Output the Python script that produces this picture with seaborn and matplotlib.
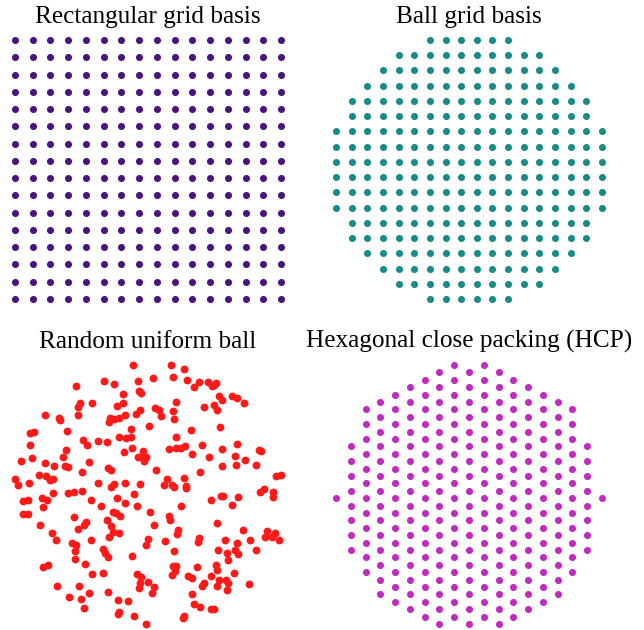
import numpy as np
import pandas as pd
import matplotlib
matplotlib.use("Agg")
import matplotlib.pyplot as plt
import seaborn as sns

sns.set_style("white")
plt.rcParams['font.family'] = ['Liberation Serif', 'DejaVu Serif']

# ---------------- data ----------------
titles = ["Rectangular grid basis", "Ball grid basis",
          "Random uniform ball", "Hexagonal close packing (HCP)"]

# rectangular 16x16 grid levels
rect_levels = [-1.0, -0.8667, -0.7333, -0.6, -0.4667, -0.3333, -0.2, -0.0667,
               0.0667, 0.2, 0.3333, 0.4667, 0.6, 0.7333, 0.8667, 1.0]

# ball grid: 18 levels, per row (top to bottom) first/last column index kept
ball_levels = [-1.0, -0.8824, -0.7647, -0.6471, -0.5294, -0.4118, -0.2941, -0.1765,
               -0.0588, 0.0588, 0.1765, 0.2941, 0.4118, 0.5294, 0.6471, 0.7647,
               0.8824, 1.0]
ball_row_first = [6, 4, 3, 2, 1, 1, 0, 0, 0, 0, 0, 0, 1, 1, 2, 3, 4, 6]
ball_row_last = [11, 13, 14, 15, 16, 16, 17, 17, 17, 17, 17, 17, 16, 16, 15, 14, 13, 11]

# random uniform ball
rand_x = [-72.3, -68.3, -69.7, -55.7, -103, -89, -87.7, -70.3, -118.3, -114.3, -81, -65.3, -49.7, -117.7, -61.3,
          -44.3, -14.7, -33.7, -10, 4.7, 23.3, 35.7, 25, 39, 46, 51, -25.3, -8.7, -7, 28, -24.7, -30.7, 7.3, 11, 13,
          -8.3, -12.3, -23.3, 25, 26, -38.3, -34, -29.3, -38.7, 1.3, -17, 43.3, -29.3, -21.7, -17, 28, -41.3, 36.5,
          59.7, 63.7, 65.7, 68.3, 70.7, 74, 83.7, 89, 96.3, 56, 66.3, 69, 72.3, 53.5, 89,
          -82, -127, -116.3, -85.3, -103.3, -94, -83, -80, -59, -65.7, -132.7, -130, -118.7, -109, -102.3, -98.3,
          -95.3, -50, -94.7, -80, -73.7, -66.3, -124.7, -120, -106, -101, -105.3, -57, -47, -124.7, -120.3, -73.7,
          -62.3, -64.3, -69.7, -107.7, -95.7, -92.3, -56.7,
          -15.7, -24, -4.7, -10.3, -5.7, -1.7, -3.7, 21, 28, 32.7, 44, -39.7, -36.7, 8.3, -34, -37, -23.3, -8, 19,
          15.7, 24.3, 25.7, 36, 37.7, 38.3, -13.7, -31, -23, -11.3, -34.7, -31.7, -28.3, 2, 21, 22.3, 33.3, -41.3, 6,
          -36.7, -35, -28.7, -39, 30, 28.7, 0, 16.5, 50.5,
          74, 111, 112.7, 61, 86.7, 97.3, 74.3, 88, 108, 52.3, 128, 132.7, 112, 116, 125, 124.7, 73, 74.7, 90.3,
          63.3, 84, 69, 94.7, 118.7, 127.3, 77, 102.3, 117.3, 124.3, 131.3,
          -76, -72.3, -72.7, -45.5, -73, -63, -105.3, -99.7, -56.3, -45, -91, -69, -59, -79.3, -67.3, -64.3,
          49.5, -2, -42.7, -39.7, -16.3, 25.7, 25.3, 28, 27, 24.3, 48.5, -10.7, -6.7, -8.3, -9.3, -0.3, 5.7, 4.3,
          40, 44, -40.3, 44.3, -29.7, -20.3, 45.7, -28.7, -30, -13.7, 34.7, 36.3, -2.3,
          89.3, 69.7, 79, 87.3, 90, 108.3, 79.7, 67.7, 68.7, 86, 62.7, 71.3, 78, 80.3, 69.3, 56, 53.7, 79, 101,
          51.7, 63.3, 66]
rand_y = [108.8, 91.2, 87.2, 91.8, 79.2, 76.5, 74.5, 79.2, 61.5, 62.2, 63.8, 54.8, 53.8, 50, 49.5,
          113.8, 129.5, 110.5, 113.8, 116.5, 129.2, 125.8, 117.8, 114.8, 107.8, 112.2, 100.5, 103.8, 101.5, 92.5,
          91.2, 88.2, 86.8, 84.2, 78.8, 84.8, 80.2, 79.2, 83.5, 75.8, 76.5, 75.8, 76.5, 72.2, 68.5, 65.8, 64.2,
          57.8, 56.2, 57.8, 57.2, 52.2, 49,
          112.8, 108.5, 109.8, 111.2, 98.8, 94.2, 98.8, 96.8, 91.8, 87.2, 89.8, 84.5, 67.5, 50, 51,
          44.5, 33.5, 36.8, 37.5, 31.8, 28.2, 28.2, 27.2, 32.2, 22.8, 15.5, 9.2, 11.8, 19.2, 18.2, 14.8, 15.5,
          11.5, 1.5, 1.2, 2.2, 3.5, -6.5, -5.2, -3.8, -5.5, -12.8, -5.8, -11.8, -19.8, -19.5, -22.8, -27.2, -30.5,
          -34.8, -30.5, -38.8, -45, -45,
          46.8, 42.2, 43.5, 37.5, 38.2, 37.2, 33.2, 45.5, 46.2, 46.8, 40.8, 26.8, 24.5, 24.8, 10.2, 7.5, 11.8, 10.8,
          15.2, 9.8, 9.2, 7.5, 16.8, 8.5, 6.5, 0.2, -3.8, -8.2, -11.2, -17.2, -18.8, -21.2, -17.2, -21.2, -25.5,
          -11.2, -25.2, -30.8, -31.8, -37.8, -38.2, -42.5, -35.2, -39.2, -44.5, -46, -43,
          45.8, 44.5, 43.2, 37.2, 38.2, 34.5, 28.5, 29.2, 29.2, 22.5, 18.8, 19.8, 2.5, 5.2, 2.8, -2.5, -1.2, -1.5,
          -2.5, -5.5, -10.5, -28.5, -35.5, -36.5, -38.2, -45, -45.5, -42.5, -42.8, -45.5,
          -48.5, -50.2, -56.5, -54.8, -64.2, -69.8, -72.8, -70.8, -79.5, -78.8, -91.8, -91.5, -98.2, -102.5, -104.2,
          -113.5,
          -47.8, -50.2, -58.2, -62.8, -61.8, -56.2, -71.8, -71.2, -76.2, -80.2, -72.2, -79.5, -82.2, -88.2, -93.2,
          -87.5, -92.8, -98.8, -81.2, -83.5, -97.2, -99.5, -105.2, -106.5, -109.8, -117.5, -119.8, -121.8, -123.2,
          -121.8, -129.2,
          -48.8, -55.8, -58.2, -55.5, -59.5, -55.8, -65.8, -70.2, -75.5, -78.5, -81.8, -85.8, -85.8, -88.8, -91.2,
          -88.8, -91.5, -95.5, -89.8, -112.2, -114.5, -114.8]

# hexagonal close packing: column x positions, row levels, per column level index range
hcp_col_x = [-1.0, -0.8889, -0.7778, -0.6667, -0.5556, -0.4444, -0.3333, -0.2222, -0.1111, 0.0,
             0.1111, 0.2222, 0.3333, 0.4444, 0.5556, 0.6667, 0.7778, 0.8889, 1.0]
hcp_levels = [1.0, 0.9429, 0.8857, 0.8286, 0.7714, 0.7143, 0.6571, 0.6, 0.5429, 0.4857, 0.4286,
              0.3714, 0.3143, 0.2571, 0.2, 0.1429, 0.0857, 0.0286, -0.0286, -0.0857, -0.1429, -0.2,
              -0.2571, -0.3143, -0.3714, -0.4286, -0.4857, -0.5429, -0.6, -0.6571, -0.7143, -0.7714,
              -0.8286, -0.8857, -0.9429, -1.0]
hcp_col_first = [18, 11, 6, 5, 4, 3, 2, 1, 0, 1, 0, 1, 2, 3, 4, 5, 6, 11, 18]
hcp_col_last = [18, 25, 28, 31, 32, 33, 34, 35, 34, 35, 34, 35, 34, 33, 32, 31, 28, 25, 18]

colors = ["#4a1580", "#1a8c88", "#ff1a1a", "#c02cc0"]

# ---------------- build tables ----------------
rect_df = pd.DataFrame([(x, y) for y in rect_levels for x in rect_levels], columns=["x", "y"])
ball_rows = []
for r, yv in enumerate(reversed(ball_levels)):
    for c in range(ball_row_first[r], ball_row_last[r] + 1):
        ball_rows.append((ball_levels[c], yv))
ball_df = pd.DataFrame(ball_rows, columns=["x", "y"])
rand_df = pd.DataFrame({"x": rand_x, "y": rand_y})
hcp_rows = []
for c, xv in enumerate(hcp_col_x):
    for k in range(hcp_col_first[c], hcp_col_last[c] + 1, 2):
        hcp_rows.append((xv, hcp_levels[k]))
hcp_df = pd.DataFrame(hcp_rows, columns=["x", "y"])

# ---------------- figure ----------------
W, H = 644, 630
fig = plt.figure(figsize=(W / 100, H / 100), dpi=100)

def box(x0, x1, y0, y1):
    return [x0 / W, (H - y1) / H, (x1 - x0) / W, (y1 - y0) / H]

boxes = [box(1.7, 294.3, 27.05, 311.95), box(322.7, 615.3, 27.05, 311.95),
         box(1.7, 294.3, 352.05, 636.95), box(322.7, 615.3, 352.05, 636.95)]
dfs = [rect_df, ball_df, rand_df, hcp_df]
lims = [(1.1, 1.1), (1.1, 1.1), (133 * 1.1, 129.5 * 1.1), (1.1, 1.1)]
sizes = [26, 26, 32, 26]

for i in range(4):
    ax = fig.add_axes(boxes[i])
    sns.scatterplot(data=dfs[i], x="x", y="y", ax=ax, color=colors[i],
                    s=sizes[i], linewidth=0, legend=False)
    ax.set_xlim(-lims[i][0], lims[i][0])
    ax.set_ylim(-lims[i][1], lims[i][1])
    ax.set_axis_off()
    ax.set_title(titles[i], fontsize=18.2, pad=3.0, color="black")

fig.savefig("out.png", dpi=100)
